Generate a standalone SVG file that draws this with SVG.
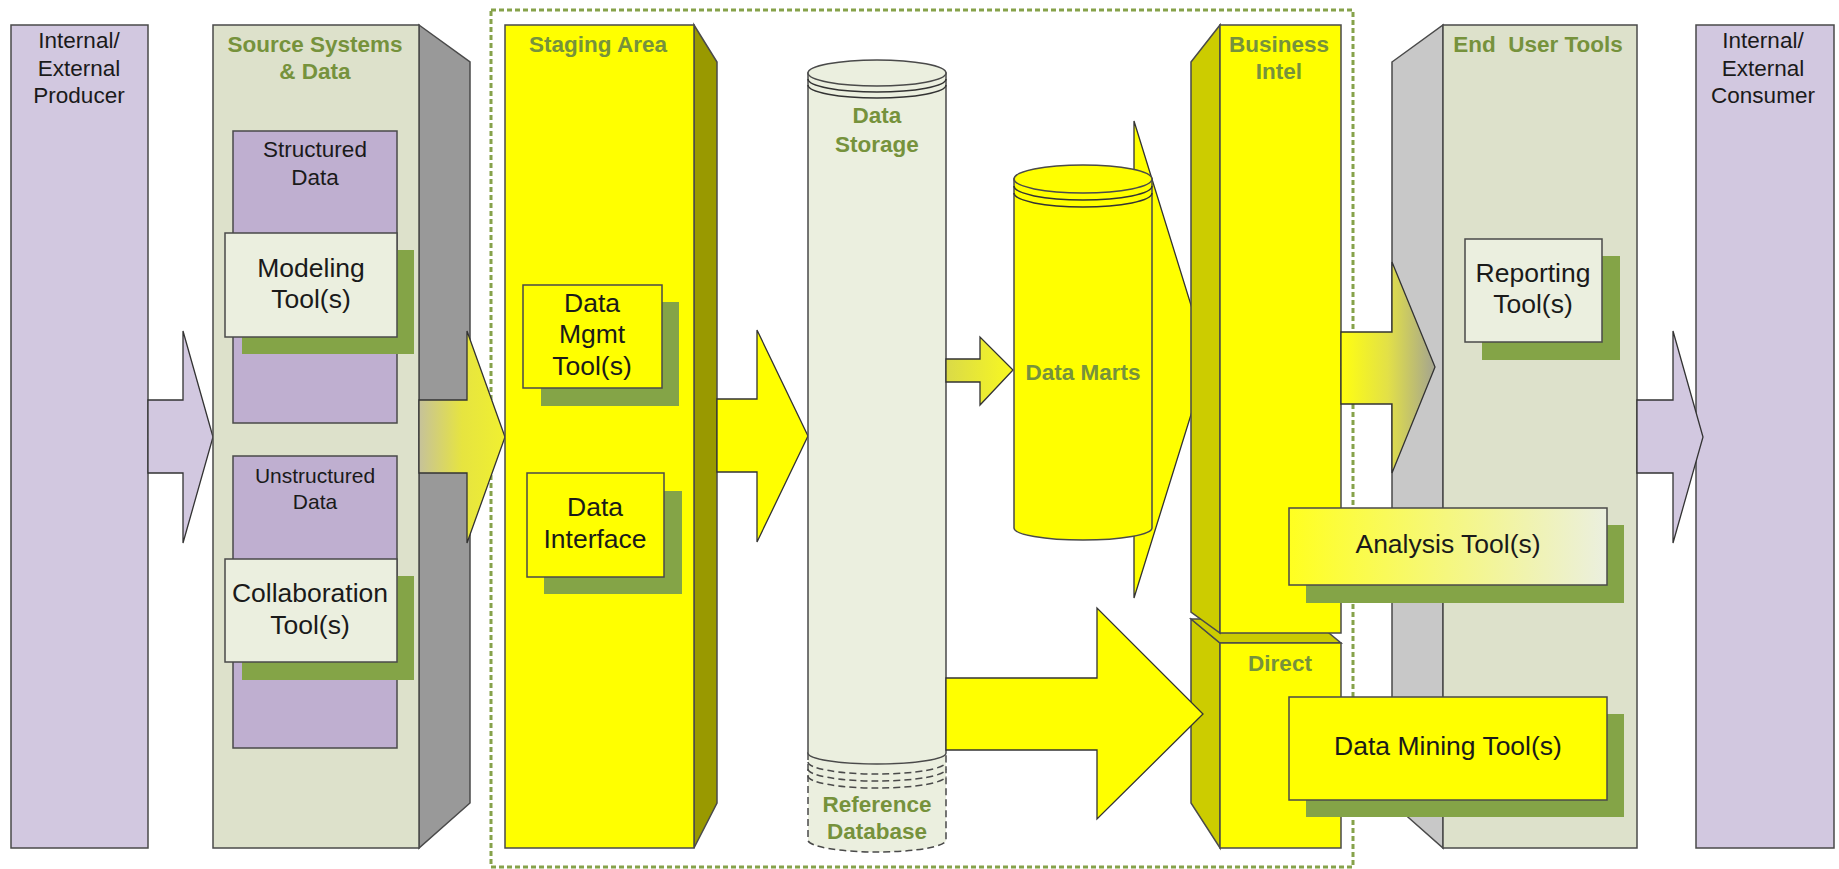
<svg xmlns="http://www.w3.org/2000/svg" width="1839" height="869" viewBox="0 0 1839 869">
<defs>
<style>
.bx{stroke:#4a4a4a;stroke-width:1.5}
.ln{fill:none;stroke:#333;stroke-width:1.5}
.ar{stroke:#333;stroke-width:1.3;stroke-linejoin:miter}
.lav{fill:#d2c8e0}
.pur{fill:#bfafd0}
.olv{fill:#dde1cb}
.pale{fill:#ebefdf}
.yel{fill:#ffff00}
.shd{fill:#84a447}
.t{font-family:"Liberation Sans",Arial,sans-serif;font-size:22.5px;fill:#1a1a1a;text-anchor:middle}
.tb{font-family:"Liberation Sans",Arial,sans-serif;font-size:22.5px;font-weight:bold;fill:#76923c;text-anchor:middle;white-space:pre}
.tl{font-family:"Liberation Sans",Arial,sans-serif;font-size:26.5px;fill:#1a1a1a;text-anchor:middle}
</style>
<linearGradient id="g1" gradientUnits="userSpaceOnUse" x1="419" y1="0" x2="505" y2="0">
<stop offset="0" stop-color="#c6c29a"/><stop offset="0.5" stop-color="#e6e440"/><stop offset="1" stop-color="#f0f030"/>
</linearGradient>
<linearGradient id="g2" gradientUnits="userSpaceOnUse" x1="946" y1="0" x2="1013" y2="0">
<stop offset="0" stop-color="#dada48"/><stop offset="1" stop-color="#f8f820"/>
</linearGradient>
<linearGradient id="g3" gradientUnits="userSpaceOnUse" x1="1341" y1="0" x2="1435" y2="0">
<stop offset="0" stop-color="#ffff10"/><stop offset="0.5" stop-color="#e2e048"/><stop offset="1" stop-color="#a4a490"/>
</linearGradient>
<linearGradient id="g4" gradientUnits="userSpaceOnUse" x1="1289" y1="0" x2="1607" y2="0">
<stop offset="0" stop-color="#ffff20"/><stop offset="1" stop-color="#ebefdf"/>
</linearGradient>
</defs>

<g id="dw-border">
<rect x="491" y="10" width="862" height="857" fill="none" stroke="#86a24a" stroke-width="3" stroke-dasharray="5 3"/>
</g>

<g id="producer">
<rect class="bx lav" x="11" y="25" width="137" height="823"/>
<text class="t"><tspan x="79" y="48">Internal/</tspan><tspan x="79" y="76">External</tspan><tspan x="79" y="103">Producer</tspan></text>
</g>

<g id="consumer">
<rect class="bx lav" x="1696" y="25" width="138" height="823"/>
<text class="t"><tspan x="1763" y="48">Internal/</tspan><tspan x="1763" y="76">External</tspan><tspan x="1763" y="103">Consumer</tspan></text>
</g>

<g id="connectors">
<path id="arrow-producer-source" class="ar lav" d="M148,400 L183,400 L183,331 L213,437 L183,543 L183,473 L148,473 Z"/>
</g>

<g id="source">
<polygon class="bx" fill="#999999" points="419,25 470,62 470,803 419,848"/>
<rect class="bx olv" x="213" y="25" width="206" height="823"/>
<text class="tb"><tspan x="315" y="52">Source Systems</tspan><tspan x="315" y="79">&amp; Data</tspan></text>
</g>

<g id="structured-data">
<rect class="bx pur" x="233" y="131" width="164" height="292"/>
<text class="t"><tspan x="315" y="157">Structured</tspan><tspan x="315" y="185">Data</tspan></text>
</g>
<g id="modeling-tools">
<rect class="shd" x="242" y="250" width="172" height="104"/>
<rect class="bx pale" x="225" y="233" width="172" height="104"/>
<text class="tl"><tspan x="311" y="277">Modeling</tspan><tspan x="311" y="308">Tool(s)</tspan></text>
</g>
<g id="unstructured-data">
<rect class="bx pur" x="233" y="456" width="164" height="292"/>
<text class="t" style="font-size:21px"><tspan x="315" y="483">Unstructured</tspan><tspan x="315" y="509">Data</tspan></text>
</g>
<g id="collaboration-tools">
<rect class="shd" x="242" y="576" width="172" height="104"/>
<rect class="bx pale" x="225" y="559" width="172" height="103"/>
<text class="tl"><tspan x="310" y="602">Collaboration</tspan><tspan x="310" y="634">Tool(s)</tspan></text>
</g>

<g id="connectors-2">
<path id="arrow-source-staging" class="ar" fill="url(#g1)" d="M419,400 L467,400 L467,331 L505,437 L467,543 L467,473 L419,473 Z"/>
</g>

<g id="staging">
<polygon class="bx" fill="#999900" points="694,25 717,62 717,803 694,848"/>
<rect class="bx yel" x="505" y="25" width="189" height="823"/>
<text class="tb" x="598" y="52">Staging Area</text>
</g>
<g id="data-mgmt-tools">
<rect class="shd" x="541" y="302" width="138" height="104"/>
<rect class="bx yel" x="523" y="285" width="139" height="103"/>
<text class="tl"><tspan x="592" y="312">Data</tspan><tspan x="592" y="343">Mgmt</tspan><tspan x="592" y="375">Tool(s)</tspan></text>
</g>
<g id="data-interface">
<rect class="shd" x="544" y="491" width="138" height="103"/>
<rect class="bx yel" x="527" y="473" width="137" height="104"/>
<text class="tl"><tspan x="595" y="516">Data</tspan><tspan x="595" y="548">Interface</tspan></text>
</g>

<g id="connectors-3">
<path id="arrow-staging-storage" class="ar yel" d="M717,399 L757,399 L757,330 L808,436 L757,542 L757,472 L717,472 Z"/>
</g>

<g id="data-storage">
<path class="bx" fill="#ebefdf" stroke-dasharray="7 4" d="M808,753 L808,840 A69,12 0 0 0 946,840 L946,753 Z"/>
<path fill="none" stroke="#4a4a4a" stroke-width="1.5" stroke-dasharray="7 4" d="M808,762 A69,12 0 0 0 946,762 M808,769 A69,12 0 0 0 946,769 M808,776 A69,12 0 0 0 946,776"/>
<path class="bx pale" d="M808,73 L808,753 A69,11 0 0 0 946,753 L946,73 Z"/>
<ellipse class="bx pale" cx="877" cy="73" rx="69" ry="13"/>
<path class="ln" d="M808,79 A69,13 0 0 0 946,79 M808,85 A69,13 0 0 0 946,85"/>
<text class="tb"><tspan x="877" y="123">Data</tspan><tspan x="877" y="152">Storage</tspan></text>
<text class="tb"><tspan x="877" y="812">Reference</tspan><tspan x="877" y="839">Database</tspan></text>
</g>

<g id="connectors-4">
<path id="arrow-storage-marts" class="ar" fill="url(#g2)" d="M946,359 L980,359 L980,337 L1013,370 L980,405 L980,382 L946,382 Z"/>
<path id="arrow-marts-bi" class="ar yel" d="M1100,230 L1134,230 L1134,121 L1208,360 L1134,598 L1134,490 L1100,490 Z"/>
</g>

<g id="data-marts">
<path class="bx yel" d="M1014,179 L1014,528 A69,12 0 0 0 1152,528 L1152,179 Z"/>
<ellipse class="bx yel" cx="1083" cy="179" rx="69" ry="14"/>
<path class="ln" d="M1014,186 A69,14 0 0 0 1152,186 M1014,193 A69,14 0 0 0 1152,193"/>
<text class="tb" x="1083" y="380">Data Marts</text>
</g>

<g id="direct">
<polygon class="bx" fill="#cccc00" points="1191,619 1220,643 1220,848 1191,803"/>
<polygon class="bx" fill="#cccc00" points="1191,619 1220,643 1341,643 1312,619"/>
<rect class="bx yel" x="1220" y="643" width="121" height="205"/>
<text class="tb" x="1280" y="671">Direct</text>
</g>

<g id="business-intel">
<polygon class="bx" fill="#cccc00" points="1191,62 1220,25 1220,633 1191,612"/>
<rect class="bx yel" x="1220" y="25" width="121" height="608"/>
<text class="tb"><tspan x="1279" y="52">Business</tspan><tspan x="1279" y="79">Intel</tspan></text>
</g>

<g id="connectors-5">
<path id="arrow-storage-direct" class="ar yel" d="M946,678 L1097,678 L1097,608 L1203,714 L1097,819 L1097,750 L946,750 Z"/>
</g>

<g id="end-user-tools">
<polygon class="bx" fill="#c8c8c8" points="1392,62 1443,25 1443,848 1392,803"/>
<rect class="bx olv" x="1443" y="25" width="194" height="823"/>
<text class="tb" x="1538" y="52">End  User Tools</text>
</g>

<g id="connectors-6">
<path id="arrow-bi-eu" class="ar" fill="url(#g3)" d="M1341,332 L1392,332 L1392,262 L1435,367 L1392,473 L1392,404 L1341,404 Z"/>
</g>

<g id="reporting-tools">
<rect class="shd" x="1482" y="256" width="138" height="104"/>
<rect class="bx pale" x="1465" y="239" width="137" height="103"/>
<text class="tl"><tspan x="1533" y="282">Reporting</tspan><tspan x="1533" y="313">Tool(s)</tspan></text>
</g>

<g id="analysis-tools">
<rect class="shd" x="1306" y="525" width="318" height="78"/>
<rect class="bx" fill="url(#g4)" x="1289" y="508" width="318" height="77"/>
<text class="tl" x="1448" y="553">Analysis Tool(s)</text>
</g>

<g id="data-mining-tools">
<rect class="shd" x="1306" y="714" width="318" height="103"/>
<rect class="bx yel" x="1289" y="697" width="318" height="103"/>
<text class="tl" x="1448" y="755">Data Mining Tool(s)</text>
</g>

<g id="connectors-7">
<path id="arrow-eu-consumer" class="ar lav" d="M1637,400 L1673,400 L1673,331 L1703,437 L1673,543 L1673,473 L1637,473 Z"/>
</g>
</svg>
